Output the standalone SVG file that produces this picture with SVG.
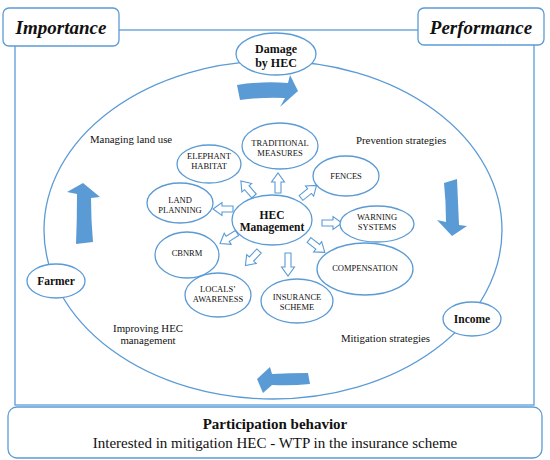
<svg xmlns="http://www.w3.org/2000/svg" width="550" height="460" viewBox="0 0 550 460" font-family="'Liberation Serif', 'Times New Roman', Times, 'DejaVu Serif', serif">
<style>
.ln{fill:none;stroke:#5b9bd5;stroke-width:1.3}
.nd{fill:#fff;stroke:#5b9bd5;stroke-width:1.3}
.t{fill:#111;text-anchor:middle}
.s{font-size:8.5px}
.b{font-weight:bold}
.lab{fill:#111;font-size:10.8px}
.ha{fill:#fff;stroke:#5b9bd5;stroke-width:1.1}
.ba{fill:#5b9bd5;stroke:none}
</style>
<defs>
<path id="ha" d="M0,-3 L11,-3 L11,-6.5 L20,0 L11,6.5 L11,3 L0,3 Z"/>
<path id="ha2" d="M0,-3 L14,-3 L14,-6.5 L23,0 L14,6.5 L14,3 L0,3 Z"/>
</defs>
<rect width="550" height="460" fill="#fff"/>
<g id="frame">
<rect class="ln" x="15" y="30" width="519" height="375"/>
<ellipse class="ln" cx="273" cy="230" rx="229" ry="169"/>
</g>
<g id="importance">
<rect class="nd" x="3" y="8" width="116" height="38" rx="6"/>
<text class="t b" x="61" y="34" font-size="19" font-style="italic">Importance</text>
</g>
<g id="performance">
<rect class="nd" x="418" y="8" width="126" height="37" rx="6"/>
<text class="t b" x="481" y="34" font-size="19" font-style="italic">Performance</text>
</g>
<g id="participation">
<rect class="nd" x="8" y="407" width="534" height="51" rx="9"/>
<text class="t b" x="275" y="429" font-size="15">Participation behavior</text>
<text class="t" x="275" y="448" font-size="15">Interested in mitigation HEC - WTP in the insurance scheme</text>
</g>
<g id="damage">
<ellipse class="nd" cx="276" cy="54" rx="40" ry="21"/>
<text class="t b" x="276" y="53" font-size="12">Damage</text>
<text class="t b" x="276" y="67" font-size="12">by HEC</text>
</g>
<g id="farmer">
<ellipse class="nd" cx="56" cy="281" rx="29" ry="17"/>
<text class="t b" x="56" y="285" font-size="11.5">Farmer</text>
</g>
<g id="income">
<ellipse class="nd" cx="472" cy="319" rx="29" ry="17"/>
<text class="t b" x="472" y="323" font-size="11.5">Income</text>
</g>
<g id="labels">
<text class="lab" x="90" y="143">Managing land use</text>
<text class="lab" x="356" y="144">Prevention strategies</text>
<text class="lab" x="148" y="332" text-anchor="middle">Improving HEC</text>
<text class="lab" x="148" y="344" text-anchor="middle">management</text>
<text class="lab" x="341" y="342">Mitigation strategies</text>
</g>
<g id="connectors">
<path class="ba" d="M237,85 Q262,81 288,83 L290,75 L298,91 L280,107 L285,98 Q262,97 240,100 Z"/>
<path class="ba" d="M444,183 L457,179 Q458,202 459,225 L467,226 L452,236 L437,220 L446,222 Q446,202 444,183 Z"/>
<path class="ba" d="M308,373 L310,384 Q291,386 272,385 L263,393 L257,379 L270,367 L272,374 Q290,373 308,373 Z"/>
<path class="ba" d="M76,244 L93,242 Q91,220 91,198 L100,197 L83,183 L67,192 L77,194 Q77,220 76,244 Z"/>
<use href="#ha" class="ha" transform="translate(278,193) rotate(-90)"/>
<use href="#ha" class="ha" transform="translate(254,196) rotate(-131)"/>
<use href="#ha" class="ha" transform="translate(301,198) rotate(-39)"/>
<use href="#ha" class="ha" transform="translate(233,209) rotate(180)"/>
<use href="#ha" class="ha" transform="translate(322,223)"/>
<use href="#ha" class="ha" transform="translate(237,233) rotate(148)"/>
<use href="#ha" class="ha" transform="translate(259,251) rotate(133)"/>
<use href="#ha2" class="ha" transform="translate(288,253) rotate(90)"/>
<use href="#ha" class="ha" transform="translate(309,240) rotate(38)"/>
</g>
<g id="traditional">
<ellipse class="nd" cx="280" cy="146" rx="38" ry="23"/>
<text class="t s" x="280" y="146">TRADITIONAL</text>
<text class="t s" x="280" y="156">MEASURES</text>
</g>
<g id="elephant">
<ellipse class="nd" cx="209" cy="164" rx="32" ry="19"/>
<text class="t s" x="209" y="159">ELEPHANT</text>
<text class="t s" x="209" y="169">HABITAT</text>
</g>
<g id="fences">
<ellipse class="nd" cx="346" cy="176" rx="33" ry="20"/>
<text class="t s" x="346" y="179">FENCES</text>
</g>
<g id="landplanning">
<ellipse class="nd" cx="180" cy="203" rx="33" ry="20"/>
<text class="t s" x="180" y="203">LAND</text>
<text class="t s" x="180" y="213">PLANNING</text>
</g>
<g id="hec">
<ellipse class="nd" cx="272" cy="220" rx="40" ry="25"/>
<text class="t b" x="272" y="219" font-size="11.5">HEC</text>
<text class="t b" x="272" y="231" font-size="11.5">Management</text>
</g>
<g id="warning">
<ellipse class="nd" cx="377" cy="224" rx="37" ry="18"/>
<text class="t s" x="377" y="220">WARNING</text>
<text class="t s" x="377" y="230">SYSTEMS</text>
</g>
<g id="cbnrm">
<ellipse class="nd" cx="187" cy="255" rx="32" ry="23"/>
<text class="t s" x="187" y="256">CBNRM</text>
</g>
<g id="compensation">
<ellipse class="nd" cx="365" cy="269" rx="48" ry="26"/>
<text class="t s" x="365" y="271">COMPENSATION</text>
</g>
<g id="locals">
<ellipse class="nd" cx="218" cy="295" rx="33" ry="22"/>
<text class="t s" x="218" y="292">LOCALS’</text>
<text class="t s" x="218" y="302">AWARENESS</text>
</g>
<g id="insurance">
<ellipse class="nd" cx="297" cy="301" rx="36" ry="22"/>
<text class="t s" x="297" y="300">INSURANCE</text>
<text class="t s" x="297" y="310">SCHEME</text>
</g>
</svg>
